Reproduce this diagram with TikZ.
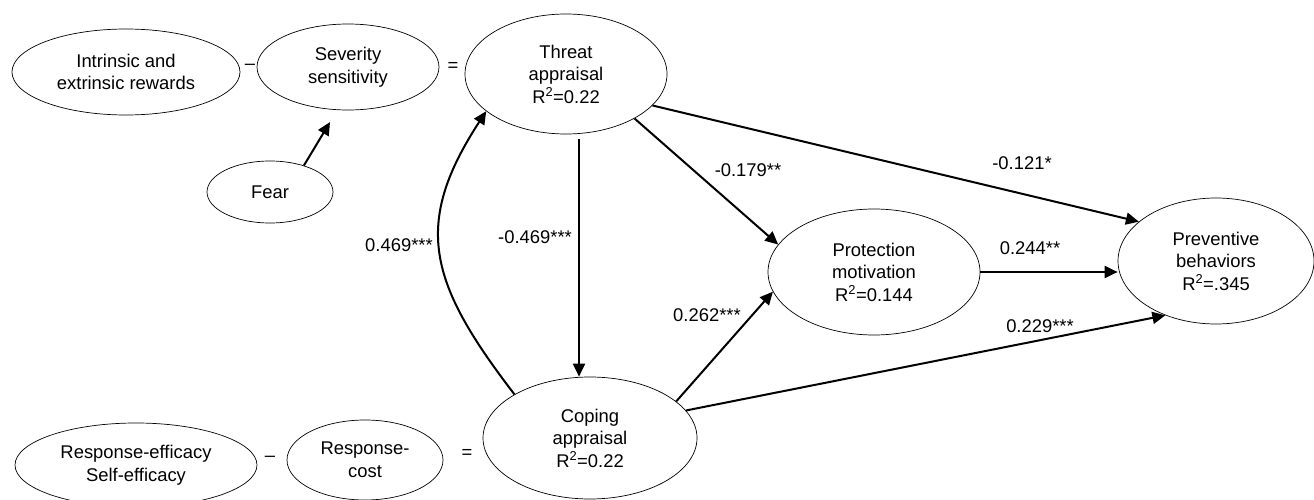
\documentclass[tikz,border=0pt]{standalone}
\usepackage{fontspec}
\setmainfont{Liberation Sans}
\usetikzlibrary{shapes.geometric}
\usetikzlibrary{arrows.meta}

\begin{document}
\begin{tikzpicture}[x=1pt,y=-1pt,
			every node/.style={font=\fontsize{18.4pt}{22.5pt}\selectfont,align=center},
			var/.style={ellipse,draw,line width=.7pt,inner sep=0pt},
			arr/.style={-{Triangle[length=13pt,width=12pt]},line width=2pt}]
			\useasboundingbox (0,0) rectangle (1314,500);
			
			% threat side
			\node[var,minimum width=228pt,minimum height=86pt] (intr) at (126,72) {Intrinsic and\\extrinsic rewards};
			\node[var,minimum width=182pt,minimum height=86pt] (sev) at (348,67) {Severity\\sensitivity};
			\node[var,minimum width=202pt,minimum height=120pt] (thr) at (566,74) {Threat\\appraisal\\R\textsuperscript{2}=0.22};
			\node[var,minimum width=126pt,minimum height=62pt] (fear) at (270,192) {Fear};
			\node (minA) at (250,67) {--};
			\node (eqA) at (453,67) {=};
			
			% coping side
			\node[var,minimum width=242pt,minimum height=84pt] (reff) at (136,465) {Response-efficacy\\Self-efficacy};
			\node[var,minimum width=156pt,minimum height=80pt] (rcost) at (365,460) {Response-\\cost};
			\node[var,minimum width=214pt,minimum height=122pt] (cop) at (590,438) {Coping\\appraisal\\R\textsuperscript{2}=0.22};
			\node (minB) at (270,459) {--};
			\node (eqB) at (467,454) {=};
			
			% outcomes
			\node[var,minimum width=212pt,minimum height=126pt] (prot) at (874,272) {Protection\\motivation\\R\textsuperscript{2}=0.144};
			\node[var,minimum width=196pt,minimum height=126pt] (prev) at (1216,261) {Preventive\\behaviors\\R\textsuperscript{2}=.345};
			
			\draw[arr,shorten >=14pt] (fear.38) -- (sev.256);
			\draw[arr] ([xshift=13pt,yshift=-5pt]thr.south) -- ([xshift=-11pt]cop.north);
			\draw[arr] (cop.150) .. controls (429,283) and (412,225) .. (thr.205);
			\draw[arr] (thr.-33) -- (prot.164);
			\draw[arr] (thr.-20) -- (prev.153);
			\draw[arr] (cop.23) -- (prot.191);
			\draw[arr] (cop.16) -- (prev.227);
			\draw[arr] (prot.east) -- (prot.east -| prev.west);
			
			% coefficients
			\node (cA) at (399,245) {0.469***};
			\node (cB) at (535,237) {-0.469***};
			\node (cC) at (748,170) {-0.179**};
			\node (cD) at (1022,163) {-0.121*};
			\node (cE) at (1030,248) {0.244**};
			\node (cF) at (1040,326) {0.229***};
			\node (cG) at (707,315) {0.262***};
		\end{tikzpicture}
\end{document}
